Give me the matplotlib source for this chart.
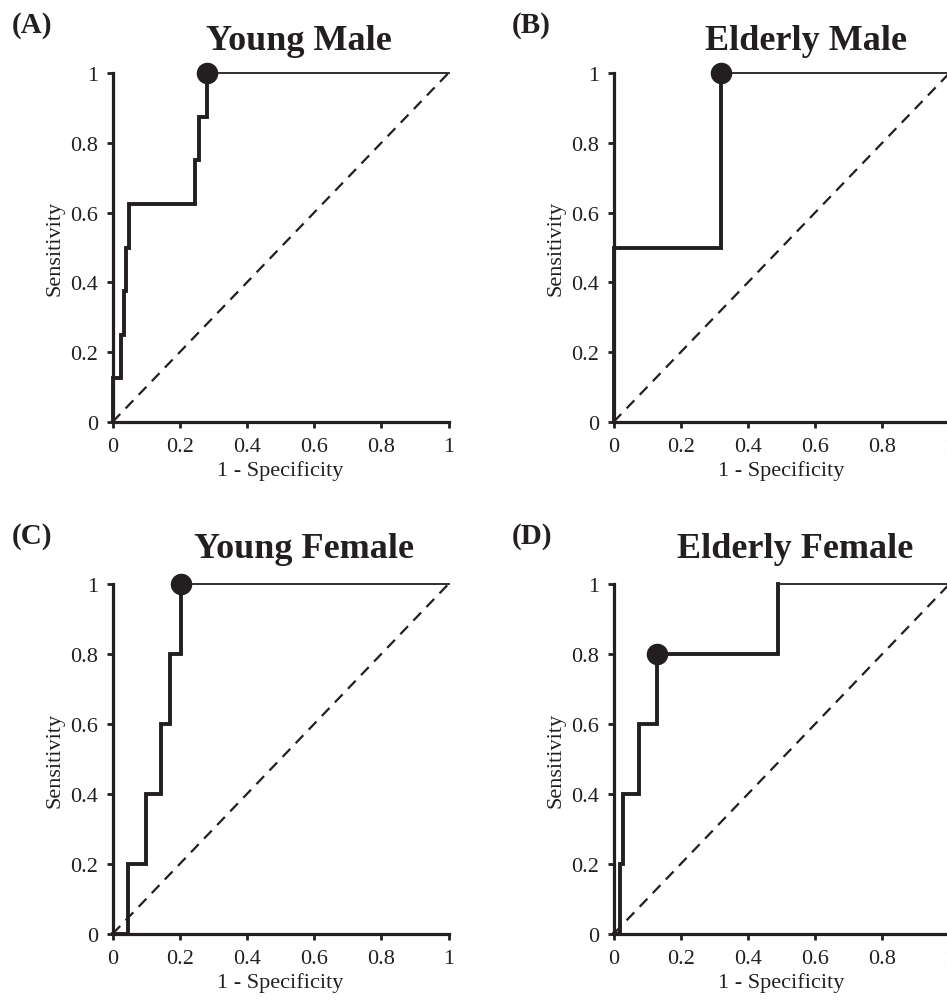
import matplotlib
matplotlib.use("Agg")
import matplotlib.pyplot as plt

plt.rcParams['font.family'] = ['Liberation Serif', 'DejaVu Serif']

# ---- data ----
titles = ["Young Male", "Elderly Male", "Young Female", "Elderly Female"]
panel_labels = ["(A)", "(B)", "(C)", "(D)"]

# vertical-step positions (1 - specificity) and sensitivity levels reached
fpr_young_male = [0, 0, 0.025, 0.035, 0.04, 0.049, 0.246, 0.256, 0.28]
tpr_young_male = [0, 0.125, 0.25, 0.375, 0.5, 0.625, 0.75, 0.875, 1.0]

fpr_elderly_male = [0, 0, 0.32]
tpr_elderly_male = [0, 0.5, 1.0]

fpr_young_female = [0, 0.045, 0.10, 0.145, 0.17, 0.203]
tpr_young_female = [0, 0.2, 0.4, 0.6, 0.8, 1.0]

fpr_elderly_female = [0, 0.019, 0.029, 0.076, 0.13, 0.489]
tpr_elderly_female = [0, 0.2, 0.4, 0.6, 0.8, 1.0]

# optimal cut-off points
opt_points = [(0.28, 1.0), (0.32, 1.0), (0.203, 1.0), (0.13, 0.8)]

tick_vals = [0, 0.2, 0.4, 0.6, 0.8, 1]
tick_labels = ["0", "0.2", "0.4", "0.6", "0.8", "1"]

curves = [(fpr_young_male, tpr_young_male), (fpr_elderly_male, tpr_elderly_male),
          (fpr_young_female, tpr_young_female), (fpr_elderly_female, tpr_elderly_female)]

W, H = 947, 1003
fig = plt.figure(figsize=(W / 100, H / 100), dpi=100)

# axes boxes in pixels: (left, top, width, height)
boxes = [(112.5, 74, 336, 349), (613.5, 74, 336, 349),
         (112.5, 585, 336, 350), (613.5, 585, 336, 350)]
title_pos = [(299, 50), (806, 50), (304, 558), (795, 558)]
label_pos = [(12, 33), (512, 33), (12, 544), (512, 544)]

for i in range(4):
    l, t, w, h = boxes[i]
    ax = fig.add_axes([l / W, 1 - (t + h) / H, w / W, h / H])
    ax.set_xlim(0, 1)
    ax.set_ylim(0, 1)
    for s in ['top', 'right']:
        ax.spines[s].set_visible(False)
    for s in ['left', 'bottom']:
        ax.spines[s].set_linewidth(2.3)
        ax.spines[s].set_color('#231f20')
    ax.set_xticks(tick_vals)
    ax.set_xticklabels(tick_labels)
    ax.set_yticks(tick_vals)
    ax.set_yticklabels(tick_labels)
    ax.tick_params(direction='out', length=4.5, width=2, color='#231f20',
                   labelsize=16, labelcolor='#231f20', pad=6)
    ax.set_xlabel("1 - Specificity", fontsize=16, color='#231f20', labelpad=3)
    ax.set_ylabel("Sensitivity", fontsize=16, color='#231f20', labelpad=4)

    # chance line
    ax.plot([0, 1], [0, 1], linestyle=(0, (5, 3.5)), color='#231f20', lw=1.6,
            clip_on=False)

    fx, ty = curves[i]
    ax.step(fx, ty, where='post', color='#231f20', lw=2.8, clip_on=False,
            solid_joinstyle='miter', zorder=3)
    ax.plot([fx[-1], 1], [ty[-1], 1], color='#231f20', lw=1.3, clip_on=False,
            zorder=3)
    ox, oy = opt_points[i]
    ax.plot([ox], [oy], 'o', color='#231f20', markersize=14.5, clip_on=False,
            zorder=4)

    tx, tyy = title_pos[i]
    fig.text(tx / W, 1 - tyy / H, titles[i], fontsize=26, fontweight='bold',
             ha='center', va='baseline', color='#231f20')
    lx, ly = label_pos[i]
    fig.text(lx / W, 1 - ly / H, panel_labels[i], fontsize=21, fontweight='bold',
             ha='left', va='baseline', color='#231f20')

fig.savefig("out.png", dpi=100)
